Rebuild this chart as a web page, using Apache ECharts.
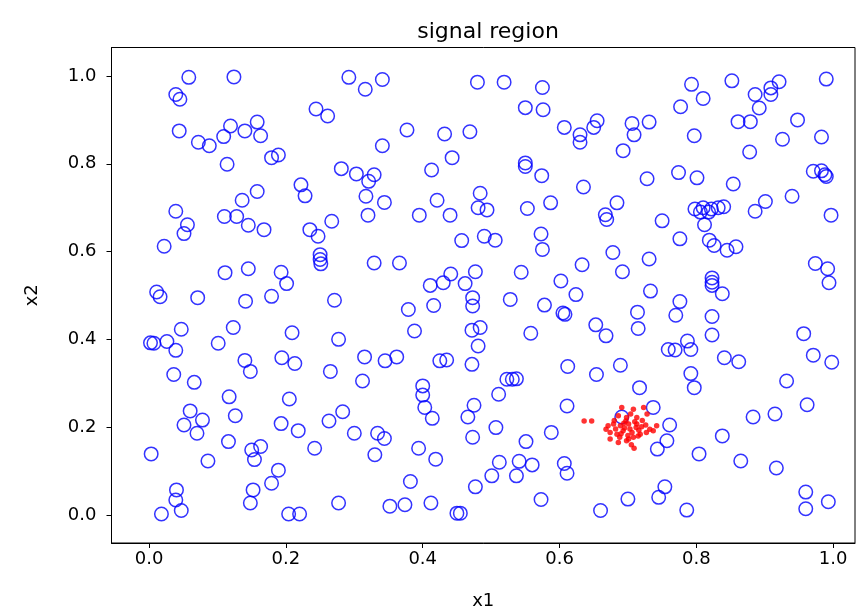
<!DOCTYPE html>
<html>
<head>
<meta charset="utf-8">
<script src="https://cdn.jsdelivr.net/npm/echarts@6/dist/echarts.min.js"></script>
<style>html,body{margin:0;padding:0;background:#fff}#c{width:857px;height:615px}</style>
</head>
<body>
<div id="c"></div>
<script>
const titleText = "signal region";
const xName = "x1";
const yName = "x2";
const xTicks = [0, 0.2, 0.4, 0.6, 0.8, 1.0];
const yTicks = [0, 0.2, 0.4, 0.6, 0.8, 1.0];

// background points (open blue circles) [x1, x2]
const bluePoints = [
[0.058,0.997],[0.124,0.998],[0.039,0.958],[0.045,0.947],[0.044,0.875],[0.072,0.849],[0.088,0.841],[0.109,0.862],[0.119,0.886],[0.140,0.875],[0.158,0.895],[0.163,0.864],[0.114,0.799],[0.179,0.814],[0.189,0.820],[0.158,0.737],[0.136,0.717],[0.039,0.692],[0.222,0.752],
[0.292,0.997],[0.316,0.970],[0.341,0.992],[0.480,0.986],[0.244,0.925],[0.261,0.909],[0.377,0.877],[0.432,0.868],[0.469,0.873],[0.341,0.841],[0.443,0.814],[0.413,0.786],[0.281,0.789],[0.303,0.777],[0.329,0.775],[0.321,0.760],[0.317,0.726],[0.344,0.712],[0.228,0.727],[0.421,0.717],[0.484,0.733],[0.481,0.700],
[0.519,0.986],[0.575,0.974],[0.550,0.928],[0.576,0.923],[0.607,0.883],[0.630,0.866],[0.630,0.849],[0.650,0.883],[0.655,0.898],[0.706,0.892],[0.731,0.895],[0.709,0.866],[0.693,0.830],[0.550,0.802],[0.550,0.794],[0.574,0.773],[0.635,0.747],[0.728,0.766],[0.494,0.695],[0.553,0.698],[0.587,0.711],[0.684,0.711],
[0.793,0.981],[0.810,0.949],[0.777,0.930],[0.852,0.989],[0.886,0.958],[0.909,0.973],[0.921,0.987],[0.909,0.958],[0.892,0.927],[0.861,0.896],[0.879,0.896],[0.948,0.900],[0.990,0.993],[0.797,0.864],[0.926,0.856],[0.983,0.861],[0.878,0.827],[0.774,0.780],[0.801,0.768],[0.854,0.754],[0.971,0.783],[0.983,0.784],[0.988,0.775],[0.990,0.771],[0.940,0.726],[0.901,0.714],[0.886,0.692],[0.997,0.683],[0.798,0.697],[0.810,0.700],[0.822,0.697],[0.832,0.700],[0.840,0.702],[0.806,0.690],[0.818,0.690],
[0.056,0.661],[0.051,0.641],[0.022,0.612],[0.110,0.680],[0.128,0.680],[0.145,0.660],[0.168,0.650],[0.111,0.552],[0.145,0.561],[0.193,0.553],[0.201,0.527],[0.179,0.498],[0.011,0.508],[0.016,0.497],[0.071,0.495],[0.141,0.487],[0.047,0.423],[0.123,0.427],[0.209,0.415],[0.002,0.392],[0.007,0.391],[0.026,0.395],[0.039,0.375],[0.101,0.391],[0.140,0.352],[0.148,0.327],[0.194,0.358],[0.213,0.345],[0.036,0.320],
[0.320,0.683],[0.395,0.683],[0.440,0.683],[0.235,0.650],[0.247,0.635],[0.267,0.669],[0.250,0.593],[0.250,0.582],[0.251,0.572],[0.329,0.574],[0.366,0.574],[0.457,0.625],[0.490,0.635],[0.506,0.626],[0.411,0.523],[0.430,0.529],[0.441,0.549],[0.462,0.527],[0.477,0.554],[0.473,0.495],[0.473,0.476],[0.271,0.489],[0.379,0.468],[0.416,0.477],[0.388,0.419],[0.472,0.421],[0.484,0.427],[0.481,0.385],[0.277,0.400],[0.315,0.360],[0.345,0.351],[0.362,0.360],[0.425,0.351],[0.435,0.353],[0.472,0.343],[0.265,0.327],
[0.667,0.684],[0.669,0.673],[0.750,0.670],[0.573,0.640],[0.575,0.605],[0.678,0.598],[0.731,0.583],[0.633,0.570],[0.544,0.553],[0.692,0.554],[0.602,0.533],[0.624,0.502],[0.733,0.510],[0.528,0.491],[0.578,0.478],[0.605,0.460],[0.608,0.457],[0.714,0.462],[0.653,0.433],[0.668,0.408],[0.715,0.425],[0.558,0.414],[0.612,0.338],[0.654,0.320],[0.689,0.341],[0.759,0.377],[0.523,0.309],[0.531,0.309],[0.537,0.310],
[0.812,0.661],[0.776,0.629],[0.819,0.626],[0.826,0.614],[0.845,0.603],[0.858,0.611],[0.974,0.573],[0.992,0.561],[0.994,0.529],[0.823,0.540],[0.823,0.530],[0.823,0.523],[0.838,0.504],[0.776,0.486],[0.770,0.455],[0.823,0.452],[0.823,0.410],[0.957,0.413],[0.787,0.396],[0.769,0.376],[0.792,0.377],[0.841,0.358],[0.862,0.349],[0.971,0.364],[0.998,0.348],[0.792,0.322],
[0.066,0.302],[0.117,0.269],[0.205,0.264],[0.060,0.237],[0.078,0.216],[0.051,0.205],[0.070,0.186],[0.126,0.226],[0.193,0.208],[0.218,0.192],[0.116,0.167],[0.150,0.148],[0.163,0.156],[0.154,0.126],[0.003,0.139],[0.086,0.123],[0.189,0.102],[0.179,0.072],[0.040,0.057],[0.039,0.034],[0.047,0.010],[0.018,0.002],[0.152,0.057],[0.148,0.027],[0.204,0.002],[0.220,0.002],
[0.312,0.305],[0.400,0.294],[0.400,0.273],[0.403,0.245],[0.414,0.220],[0.475,0.250],[0.466,0.223],[0.473,0.177],[0.283,0.235],[0.263,0.214],[0.300,0.186],[0.334,0.186],[0.344,0.174],[0.242,0.152],[0.330,0.137],[0.394,0.152],[0.419,0.127],[0.382,0.076],[0.477,0.064],[0.277,0.027],[0.352,0.020],[0.374,0.023],[0.412,0.027],[0.450,0.004],[0.455,0.004],
[0.717,0.290],[0.511,0.275],[0.611,0.248],[0.737,0.245],[0.691,0.223],[0.507,0.199],[0.588,0.188],[0.551,0.167],[0.761,0.205],[0.743,0.150],[0.757,0.169],[0.512,0.120],[0.501,0.089],[0.541,0.122],[0.560,0.114],[0.537,0.089],[0.607,0.117],[0.611,0.095],[0.573,0.035],[0.660,0.010],[0.700,0.036],[0.745,0.040],[0.754,0.064],
[0.797,0.290],[0.932,0.305],[0.962,0.251],[0.915,0.230],[0.883,0.223],[0.838,0.180],[0.804,0.139],[0.865,0.123],[0.917,0.107],[0.786,0.011],[0.960,0.052],[0.960,0.014],[0.993,0.030]
];

// signal points (small red dots) [x1, x2]
const redPoints = [
[0.636,0.214],[0.647,0.214],[0.691,0.245],[0.708,0.241],[0.723,0.245],[0.728,0.230],[0.686,0.226],[0.698,0.222],[0.713,0.222],[0.671,0.203],[0.679,0.207],[0.689,0.203],[0.701,0.207],[0.713,0.207],[0.720,0.201],[0.732,0.195],[0.742,0.203],[0.674,0.188],[0.684,0.184],[0.693,0.192],[0.706,0.188],[0.718,0.184],[0.727,0.188],[0.737,0.192],[0.674,0.173],[0.688,0.177],[0.701,0.173],[0.715,0.180],[0.698,0.169],[0.708,0.177],[0.709,0.152],
[0.695,0.198],[0.703,0.196],[0.710,0.212],[0.682,0.196],[0.697,0.214],[0.716,0.193],[0.690,0.185],[0.704,0.230],[0.721,0.215],[0.680,0.215],[0.700,0.181],[0.712,0.199],[0.694,0.209],[0.726,0.205],[0.668,0.195],[0.686,0.165],[0.705,0.160]
];

const FONT = "DejaVu Sans";
const chart = echarts.init(document.getElementById('c'), null, {renderer: 'canvas'});
const fmt = v => Number(v).toFixed(1);
chart.setOption({
  animation: false,
  backgroundColor: '#fff',
  title: {
    text: titleText, left: 483, top: 16, textAlign: 'center',
    textStyle: {fontFamily: FONT, fontSize: 22, fontWeight: 'normal', color: '#000'}
  },
  grid: {left: 111.5, right: 2, top: 47.5, bottom: 71, show: true, borderColor: '#000', borderWidth: 1, backgroundColor: 'transparent'},
  xAxis: {
    type: 'value', min: -0.055, max: 1.032,
    name: xName, nameLocation: 'middle', nameGap: 49,
    nameTextStyle: {fontFamily: FONT, fontSize: 18, color: '#000'},
    axisLine: {show: true, onZero: false, lineStyle: {color: '#000', width: 1}},
    axisTick: {show: true, length: 5, customValues: xTicks, lineStyle: {color: '#000'}},
    axisLabel: {customValues: xTicks, formatter: fmt, fontFamily: FONT, fontSize: 18, color: '#000', margin: 7},
    splitLine: {show: false}
  },
  yAxis: {
    type: 'value', min: -0.064, max: 1.065,
    name: yName, nameLocation: 'middle', nameGap: 70, nameRotate: 90,
    nameTextStyle: {fontFamily: FONT, fontSize: 18, color: '#000'},
    axisLine: {show: true, onZero: false, lineStyle: {color: '#000', width: 1}},
    axisTick: {show: true, length: 5, customValues: yTicks, lineStyle: {color: '#000'}},
    axisLabel: {customValues: yTicks, formatter: fmt, fontFamily: FONT, fontSize: 18, color: '#000', margin: 15},
    splitLine: {show: false}
  },
  series: [
    {
      type: 'scatter', data: bluePoints, symbol: 'circle', symbolSize: 13.5, z: 2,
      itemStyle: {color: 'rgba(0,0,0,0)', borderColor: '#0000ff', borderWidth: 1.5},
      emphasis: {disabled: true}, silent: true
    },
    {
      type: 'scatter', data: redPoints, symbol: 'circle', symbolSize: 5.5, z: 3,
      itemStyle: {color: '#ff0000'},
      emphasis: {disabled: true}, silent: true
    }
  ]
});
</script>
</body>
</html>
